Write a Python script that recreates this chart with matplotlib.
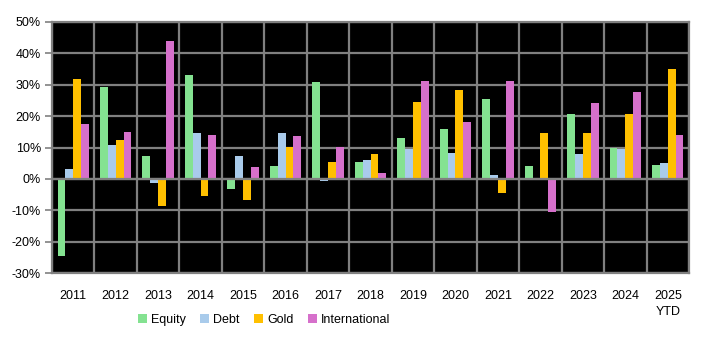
import matplotlib
matplotlib.use("Agg")
import matplotlib.pyplot as plt
import numpy as np

categories = ["2011", "2012", "2013", "2014", "2015", "2016", "2017", "2018",
              "2019", "2020", "2021", "2022", "2023", "2024", "2025\nYTD"]
equity = [-24.5, 29.3, 7.2, 33.1, -3.2, 4.0, 30.9, 5.3, 13.0, 15.9, 25.4, 4.0, 20.6, 9.8, 4.4]
debt = [3.1, 10.7, -1.3, 14.6, 7.2, 14.6, -0.6, 6.0, 9.5, 8.2, 1.2, 0.0, 7.9, 9.5, 5.0]
gold = [31.8, 12.3, -8.6, -5.4, -6.7, 10.1, 5.3, 7.9, 24.5, 28.3, -4.5, 14.6, 14.6, 20.6, 35.0]
international = [17.4, 14.9, 43.9, 13.9, 3.7, 13.6, 10.1, 1.8, 31.2, 18.1, 31.2, -10.5, 24.1, 27.7, 13.9]
series_names = ["Equity", "Debt", "Gold", "International"]
colors = ["#84E291", "#A9CBEB", "#FFC000", "#D670CB"]
yticks = [-30, -20, -10, 0, 10, 20, 30, 40, 50]

plt.rcParams['font.family'] = ['Liberation Sans', 'DejaVu Sans']
fig = plt.figure(figsize=(7.10, 3.37), dpi=100)
ax = fig.add_axes([52/710, 1-273/337, (689-52)/710, (273-22)/337])
ax.set_facecolor("black")

x = np.arange(len(categories))
w = 0.185
data = [equity, debt, gold, international]
for i, (vals, name, c) in enumerate(zip(data, series_names, colors)):
    ax.bar(x + (i - 1.5) * w, vals, width=w, color=c, label=name, zorder=3)

grid_c = "#808080"
ax.set_ylim(-30, 50)
ax.set_xlim(-0.5, len(categories) - 0.5)
ax.set_yticks(yticks)
ax.set_yticklabels([f"{v}%" for v in yticks], fontsize=9)
ax.set_xticks(x)
ax.set_xticklabels(categories, fontsize=9, linespacing=1.5)
for yv in yticks:
    ax.axhline(yv, color=grid_c, lw=1.6, zorder=1)
for b in np.arange(-0.5, len(categories), 1.0):
    ax.axvline(b, color=grid_c, lw=1.6, zorder=1)
ax.axhline(0, color=grid_c, lw=1.6, zorder=4)
for s in ax.spines.values():
    s.set_color(grid_c)
    s.set_linewidth(1.6)
ax.tick_params(axis='y', color=grid_c, length=5, width=1.2, pad=3)
ax.tick_params(axis='x', length=0, pad=12)

fig.legend(loc="center", bbox_to_anchor=(0.372, 1-320/337), ncol=4, frameon=False,
           fontsize=9, handlelength=0.7, handleheight=0.7, columnspacing=1.2,
           handletextpad=0.3)

fig.savefig("out.png", dpi=100)
